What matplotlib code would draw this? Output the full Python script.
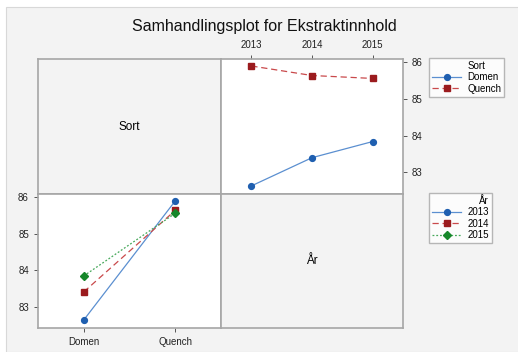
import matplotlib.pyplot as plt
from matplotlib.patches import Rectangle
from matplotlib.lines import Line2D

plt.rcParams['font.family'] = ['Liberation Sans', 'DejaVu Sans']

# middelverdier for ekstraktinnhold
aar = [2013, 2014, 2015]
sorter = ['Domen', 'Quench']
domen = [82.63, 83.40, 83.84]
quench = [85.90, 85.64, 85.56]
y_ticks = [83, 84, 85, 86]

blaa = '#1f5fb0'
blaa_linje = '#5b8fd0'
roed = '#9b1b1e'
roed_linje = '#c9494b'
groenn = '#16872a'
groenn_linje = '#46a85a'
ramme = '#a6a6a6'
bakgrunn = '#f3f3f3'

W, H = 518, 352
fig = plt.figure(figsize=(W / 100, H / 100), dpi=100)
fig.patch.set_facecolor('white')
fig.patches.append(Rectangle((6 / W, 0), 1, 1 - 7 / H, transform=fig.transFigure,
                             facecolor=bakgrunn, edgecolor='#d8d8d8', lw=0.8, zorder=-5))


def px_axes(x0, y0, x1, y1):
    return fig.add_axes([x0 / W, 1 - y1 / H, (x1 - x0) / W, (y1 - y0) / H])


ax_tl = px_axes(38, 59, 221, 194)
ax_tr = px_axes(221, 59, 403, 194)
ax_bl = px_axes(38, 194, 221, 328)
ax_br = px_axes(221, 194, 403, 328)

for ax in [ax_tl, ax_tr, ax_bl, ax_br]:
    for s in ax.spines.values():
        s.set_color(ramme)
        s.set_linewidth(1.2)
    ax.tick_params(colors='#555555', labelcolor='#222222', labelsize=7, length=3, width=0.7)

for ax, txt in [(ax_tl, 'Sort'), (ax_br, 'År')]:
    ax.set_facecolor(bakgrunn)
    ax.set_xticks([])
    ax.set_yticks([])
    ax.text(0.5, 0.5, txt, ha='center', va='center', fontsize=8.5, transform=ax.transAxes)

ylim = (82.41, 86.09)

# Sort mot år
ax_tr.plot(aar, domen, color=blaa_linje, lw=0.9, marker='o', ms=4.2,
           mfc=blaa, mec=blaa)
ax_tr.plot(aar, quench, color=roed_linje, lw=0.9, ls=(0, (5, 3)), marker='s', ms=3.8,
           mfc=roed, mec=roed)
ax_tr.set_xlim(2012.5, 2015.5)
ax_tr.set_ylim(*ylim)
ax_tr.set_xticks(aar)
ax_tr.set_yticks(y_ticks)
ax_tr.xaxis.tick_top()
ax_tr.yaxis.tick_right()

# år mot sort
xs = [0, 1]
serier = [
    ([domen[0], quench[0]], blaa_linje, blaa, '-', 'o', 4.2),
    ([domen[1], quench[1]], roed_linje, roed, (0, (5, 3)), 's', 3.8),
    ([domen[2], quench[2]], groenn_linje, groenn, (0, (1.5, 1.5)), 'D', 3.6),
]
for ys, lc, mc, ls, m, ms in serier:
    ax_bl.plot(xs, ys, color=lc, lw=0.9, ls=ls, marker=m, ms=ms, mfc=mc, mec=mc)
ax_bl.set_xlim(-0.5, 1.5)
ax_bl.set_ylim(*ylim)
ax_bl.set_xticks(xs)
ax_bl.set_xticklabels(sorter)
ax_bl.set_yticks(y_ticks)

fig.text(264 / W, 1 - 27 / H, 'Samhandlingsplot for Ekstraktinnhold',
         ha='center', va='center', fontsize=11.5, color='#111111')

# "Sort"-tittelen står over etikettene, så den legges inn som en tom rad
tom = Line2D([], [], lw=0)
h_sort = [tom,
          Line2D([], [], color=blaa_linje, lw=0.9, marker='o', ms=4.2, mfc=blaa, mec=blaa),
          Line2D([], [], color=roed_linje, lw=0.9, ls=(0, (5, 3)), marker='s', ms=3.8,
                 mfc=roed, mec=roed)]
h_aar = [Line2D([], [], color=lc, lw=0.9, ls=ls, marker=m, ms=ms, mfc=mc, mec=mc)
         for _, lc, mc, ls, m, ms in serier]

for handles, labels, tittel, y_top in [(h_sort, ['Sort'] + sorter, None, 58),
                                       (h_aar, [str(a) for a in aar], 'År', 193)]:
    leg = fig.legend(handles, labels, title=tittel, loc='upper left',
                     bbox_to_anchor=(429 / W, 1 - y_top / H), fontsize=7,
                     title_fontsize=7, frameon=True, fancybox=False,
                     handlelength=3.0, handletextpad=0.6, borderpad=0.32,
                     labelspacing=0.13, borderaxespad=0)
    leg.get_frame().set_edgecolor(ramme)
    leg.get_frame().set_linewidth(1.0)
    leg.get_frame().set_facecolor('white')
    leg._legend_box.align = 'right'

fig.savefig('out.png', dpi=100, facecolor=fig.get_facecolor())
